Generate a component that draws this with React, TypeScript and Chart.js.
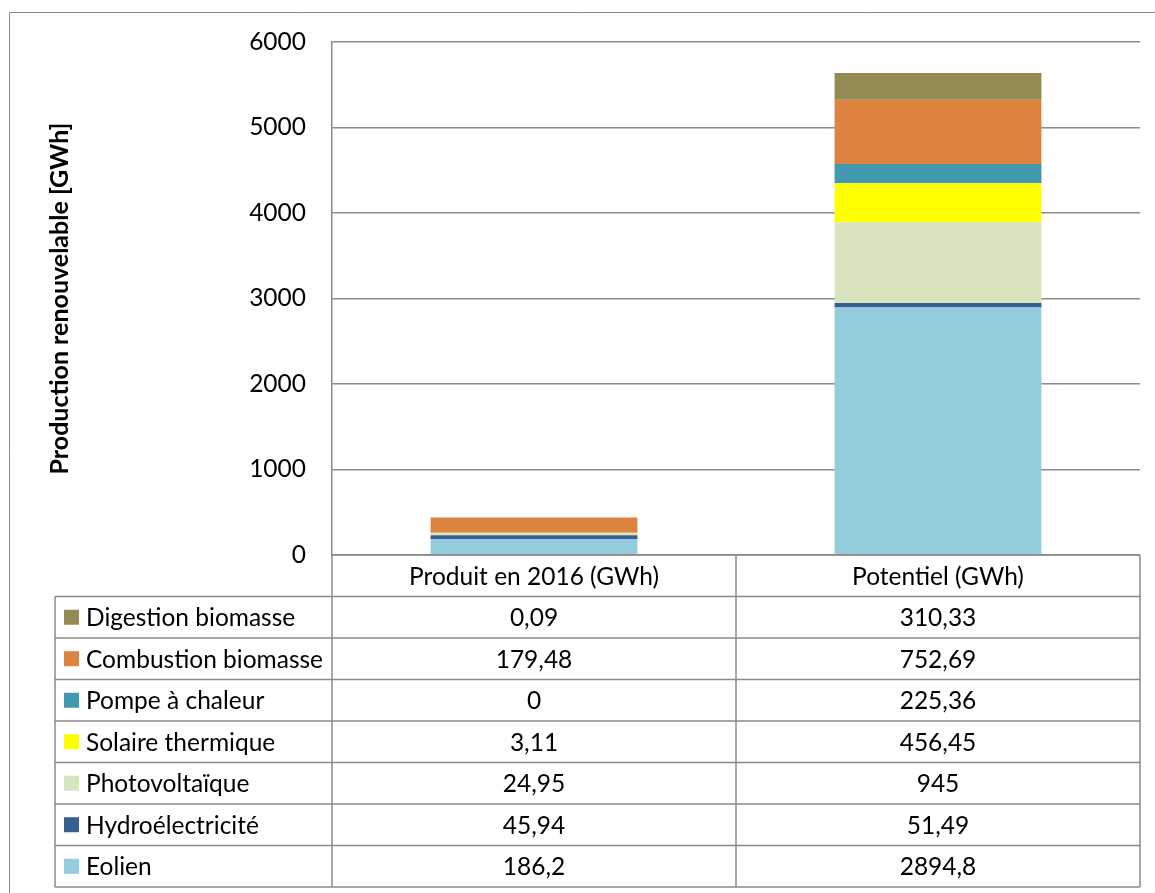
import React, { useEffect, useRef } from "react";
import { Chart, registerables } from "chart.js";

Chart.register(...registerables);

const categories = ["Produit en 2016 (GWh)", "Potentiel (GWh)"];
const seriesNames = [
  "Eolien",
  "Hydroélectricité",
  "Photovoltaïque",
  "Solaire thermique",
  "Pompe à chaleur",
  "Combustion biomasse",
  "Digestion biomasse",
];
const eolien = [186.2, 2894.8];
const hydroelectricite = [45.94, 51.49];
const photovoltaique = [24.95, 945];
const solaireThermique = [3.11, 456.45];
const pompeAChaleur = [0, 225.36];
const combustionBiomasse = [179.48, 752.69];
const digestionBiomasse = [0.09, 310.33];
const seriesValues = [
  eolien,
  hydroelectricite,
  photovoltaique,
  solaireThermique,
  pompeAChaleur,
  combustionBiomasse,
  digestionBiomasse,
];
const seriesColors = [
  "#93CDDD",
  "#385F91",
  "#D8E4BE",
  "#FFFF00",
  "#4298AF",
  "#DC833F",
  "#948A54",
];
const yTickValues = [0, 1000, 2000, 3000, 4000, 5000, 6000];
const yTitle = "Production renouvelable [GWh]";

const FONT = "Lato, 'Open Sans', sans-serif";
const LINE = "#8a8a8a";
const TXT = 24.5;

const fmt = (v: number) => String(v).replace(".", ",");

const tablePlugin = {
  id: "dataTable",
  afterDraw(chart: any) {
    const ctx = chart.ctx as CanvasRenderingContext2D;
    const xs = chart.scales.x;
    const area = chart.chartArea;
    const rowH = 41.5;
    const top = area.bottom;
    const centers = categories.map((_, i) => xs.getPixelForValue(i));
    const edges = [xs.left, (centers[0] + centers[1]) / 2, xs.right];
    const tableLeft = 55;
    const ds = chart.data.datasets.slice().reverse();
    const nRows = ds.length;
    const bottom = top + rowH * (nRows + 1);

    ctx.save();
    ctx.strokeStyle = LINE;
    ctx.lineWidth = 1.5;
    ctx.beginPath();
    for (let r = 0; r <= nRows + 1; r++) {
      const y = top + r * rowH;
      const x0 = r === 0 ? edges[0] : tableLeft;
      ctx.moveTo(x0, y);
      ctx.lineTo(edges[2], y);
    }
    edges.forEach((ex) => {
      ctx.moveTo(ex, top);
      ctx.lineTo(ex, bottom);
    });
    ctx.moveTo(tableLeft, top + rowH);
    ctx.lineTo(tableLeft, bottom);
    ctx.stroke();

    // outer chart border
    ctx.lineWidth = 1;
    ctx.beginPath();
    ctx.moveTo(9.5, chart.height + 2);
    ctx.lineTo(9.5, 12.5);
    ctx.lineTo(chart.width + 2, 12.5);
    ctx.stroke();

    ctx.fillStyle = "#000";
    ctx.font = `${TXT}px ${FONT}`;
    ctx.textBaseline = "middle";
    ctx.textAlign = "center";
    categories.forEach((c, i) => ctx.fillText(c, centers[i], top + rowH / 2 + 1));

    ds.forEach((d: any, r: number) => {
      const yc = top + rowH * (r + 1) + rowH / 2;
      ctx.fillStyle = d.backgroundColor;
      ctx.fillRect(64, yc - 7.5, 15, 15);
      ctx.fillStyle = "#000";
      ctx.textAlign = "left";
      ctx.fillText(d.label, 86, yc + 1);
      ctx.textAlign = "center";
      d.data.forEach((v: number, i: number) => ctx.fillText(fmt(v), centers[i], yc + 1));
    });
    ctx.restore();
  },
};

export default function App() {
  const ref = useRef<HTMLCanvasElement>(null);
  useEffect(() => {
    if (!ref.current) return;
    const chart = new Chart(ref.current, {
      type: "bar",
      data: {
        labels: categories,
        datasets: seriesNames.map((name, i) => ({
          label: name,
          data: seriesValues[i],
          backgroundColor: seriesColors[i],
          borderWidth: 0,
          categoryPercentage: 1,
          barPercentage: 0.512,
        })),
      },
      options: {
        responsive: false,
        animation: false,
        layout: { padding: { left: 0, top: 42, right: 15, bottom: 338 } },
        plugins: {
          legend: { display: false },
          tooltip: { enabled: false },
          title: { display: false },
        },
        scales: {
          x: {
            stacked: true,
            display: false,
          },
          y: {
            stacked: true,
            min: 0,
            max: 6000,
            afterFit: (s: any) => {
              s.width = 332;
            },
            afterBuildTicks: (s: any) => {
              s.ticks = yTickValues.map((v) => ({ value: v }));
            },
            grid: { color: LINE, lineWidth: 1.5, drawTicks: false },
            border: { display: true, color: LINE, width: 1.5 },
            ticks: {
              padding: 26,
              color: "#000",
              font: { family: FONT, size: TXT },
              callback: (v: any) => String(v),
            },
            title: {
              display: true,
              text: yTitle,
              color: "#000",
              font: { family: FONT, size: 25, weight: "bold" },
              padding: { top: 45, bottom: 0 },
            },
          },
        },
      },
      plugins: [tablePlugin],
    });
    return () => chart.destroy();
  }, []);
  return (
    <div style={{ position: "absolute", left: 0, top: 0, width: 1155, height: 893, background: "#fff" }}>
      <canvas ref={ref} width={1155} height={893} style={{ display: "block" }} />
    </div>
  );
}
